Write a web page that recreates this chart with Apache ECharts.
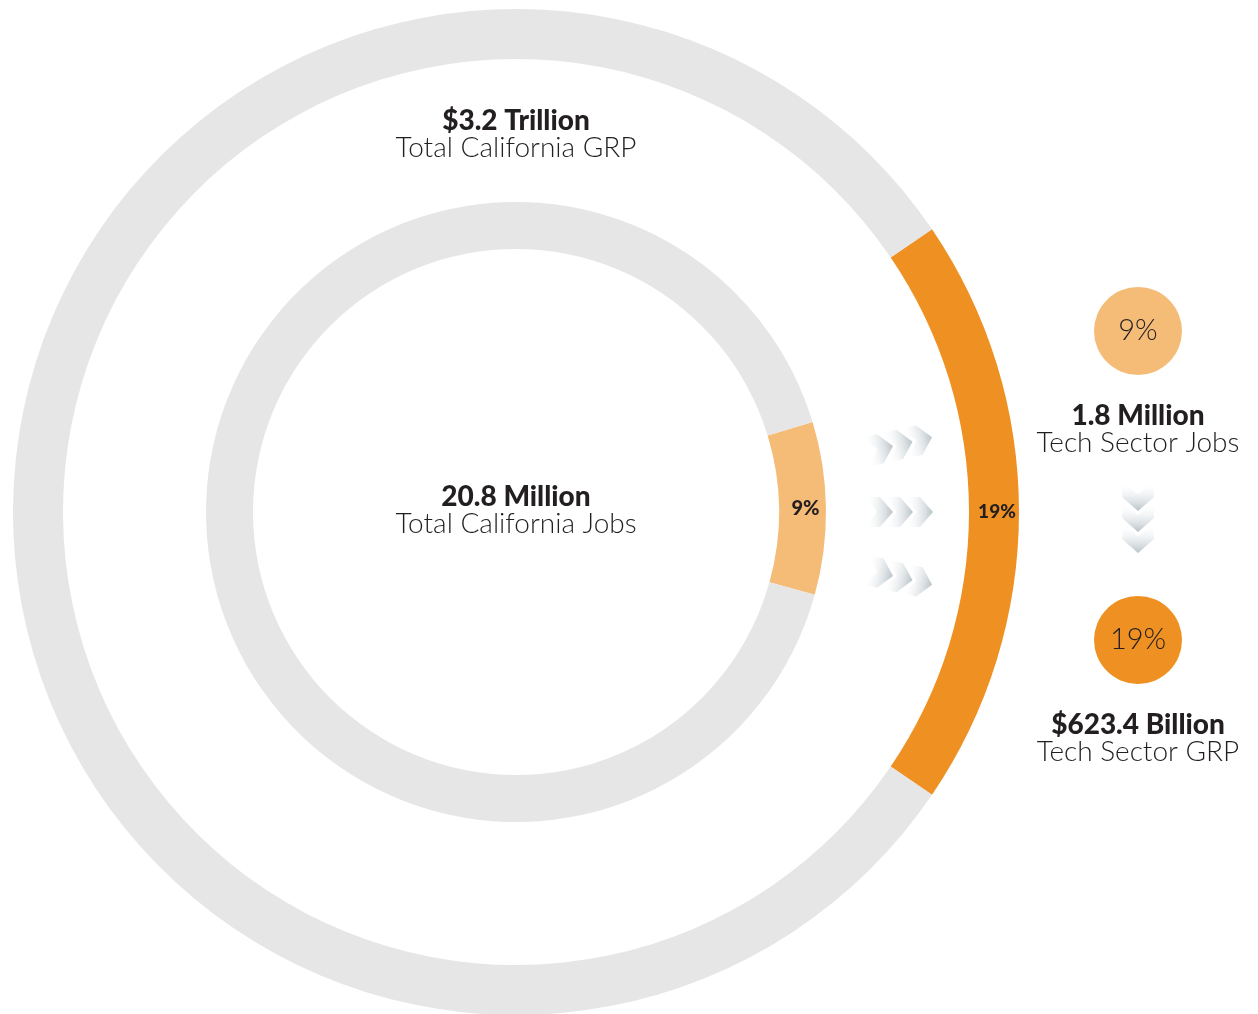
<!DOCTYPE html>
<html>
<head>
<meta charset="utf-8">
<title>California Tech Sector Share</title>
<script src="https://cdn.jsdelivr.net/npm/echarts@6/dist/echarts.min.js"></script>
<style>
  html, body { margin: 0; padding: 0; background: #ffffff; }
  #chart { width: 1258px; height: 1014px; }
</style>
</head>
<body>
<div id="chart"></div>
<script>
// Shares of the California economy held by the tech sector (percent)
const sliceNames = ['Tech Sector', 'Rest of California'];
const jobsShare = [9, 91];
const grpShare = [19, 81];

// Headline figures
const totalGrpLabel = ['$3.2 Trillion', 'Total California GRP'];
const totalJobsLabel = ['20.8 Million', 'Total California Jobs'];
const techJobsLabel = ['1.8 Million', 'Tech Sector Jobs'];
const techGrpLabel = ['$623.4 Billion', 'Tech Sector GRP'];

const GREY = '#e6e6e6';
const LIGHT_ORANGE = '#f5bc78';
const ORANGE = '#ef9122';
const INK = '#231f20';
const FONT = 'Lato, "Open Sans", sans-serif';

const CX = 516, CY = 512;

function ringData(values, accent) {
  return values.map((v, i) => ({
    name: sliceNames[i],
    value: v,
    itemStyle: { color: i === 0 ? accent : GREY },
    label: { show: i === 0 }
  }));
}

// slice centred on the 3 o'clock direction
function startFor(share, offset) {
  return share * 360 / 100 / 2 + (offset || 0);
}

function ring(values, radius, accent, fontSize, offset) {
  return {
    type: 'pie',
    silent: true,
    center: [CX, CY],
    radius: radius,
    startAngle: startFor(values[0], offset),
    clockwise: true,
    avoidLabelOverlap: false,
    animation: false,
    itemStyle: { borderWidth: 0 },
    label: {
      position: 'inside',
      formatter: '{c}%',
      color: INK,
      fontFamily: FONT,
      fontWeight: 900,
      fontSize: fontSize
    },
    labelLine: { show: false },
    data: ringData(values, accent)
  };
}

function badge(value, y, color) {
  return {
    type: 'pie',
    silent: true,
    center: [1138, y],
    radius: [0, 44],
    animation: false,
    label: {
      position: 'center',
      formatter: '{c}%',
      color: INK,
      fontFamily: FONT,
      fontWeight: 300,
      fontSize: 29
    },
    labelLine: { show: false },
    data: [{ name: sliceNames[0], value: value, itemStyle: { color: color } }]
  };
}

function caption(lines, x, y) {
  return [
    { type: 'text', x: x, y: y, style: { text: lines[0], fill: INK, textAlign: 'center', textVerticalAlign: 'middle', font: '900 28px ' + FONT } },
    { type: 'text', x: x, y: y + 27, style: { text: lines[1], fill: INK, textAlign: 'center', textVerticalAlign: 'middle', font: '300 28px ' + FONT } }
  ];
}

// chevron arrow, tip at local (0,0), pointing along +x
function chevron(dx) {
  return {
    type: 'polygon',
    x: dx,
    shape: { points: [[-28, -15], [-13, -15], [0, 0], [-13, 15], [-28, 15], [-16, 0]] },
    style: {
      fill: new echarts.graphic.LinearGradient(0, 0, 1, 0, [
        { offset: 0, color: 'rgba(255,255,255,0)' },
        { offset: 1, color: '#b7c2c8' }
      ])
    }
  };
}

function chevronRow(x, y, rot, size) {
  return {
    type: 'group',
    x: x, y: y,
    rotation: rot,
    scaleX: size || 1,
    scaleY: size || 1,
    children: [chevron(0), chevron(20), chevron(40)]
  };
}

const chart = echarts.init(document.getElementById('chart'), null, { renderer: 'canvas' });

chart.setOption({
  backgroundColor: '#ffffff',
  animation: false,
  series: [
    ring(grpShare, [453, 503], ORANGE, 19, 0),
    ring(jobsShare, [263, 310], LIGHT_ORANGE, 20, 0.7),
    badge(jobsShare[0], 331, LIGHT_ORANGE),
    badge(grpShare[0], 640, ORANGE)
  ],
  graphic: [
    ...caption(totalGrpLabel, CX, 121),
    ...caption(totalJobsLabel, CX, 497),
    ...caption(techJobsLabel, 1138, 416),
    ...caption(techGrpLabel, 1138, 725),
    chevronRow(893, 446, 0.22),
    chevronRow(893, 512, 0),
    chevronRow(893, 576, -0.22),
    chevronRow(1138, 511, -Math.PI / 2, 1.05)
  ]
});
</script>
</body>
</html>
